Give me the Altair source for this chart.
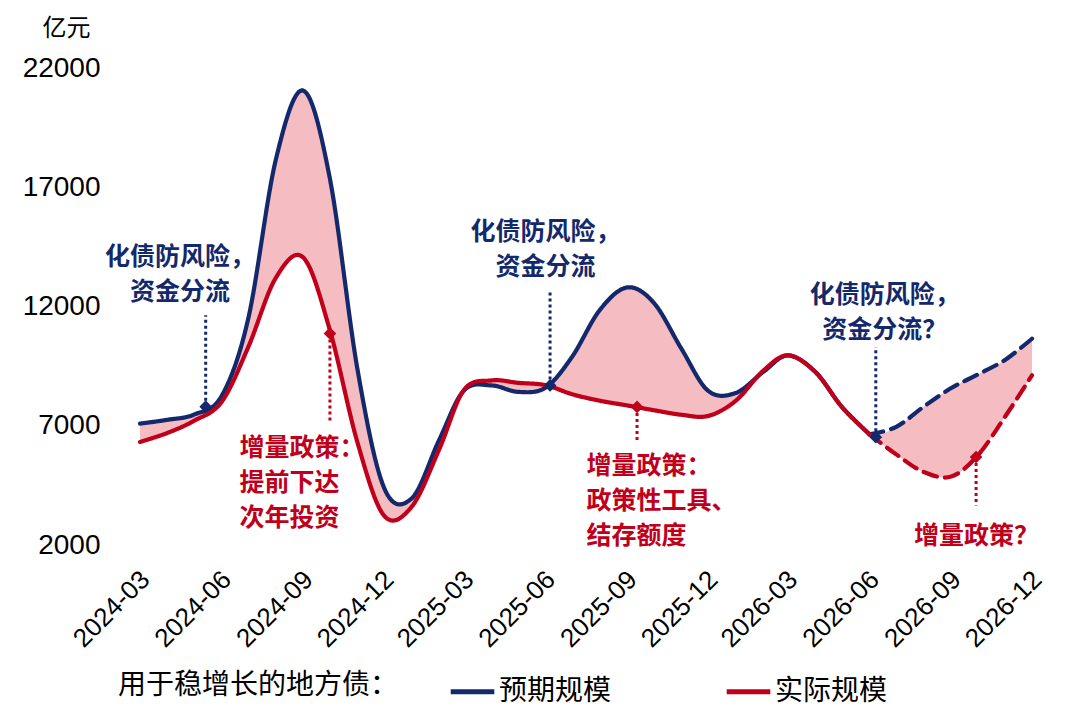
import altair as alt
import pandas as pd

# ---------------- data ----------------
months = [
    "2024-03-01", "2024-04-01", "2024-05-01", "2024-06-01", "2024-07-01", "2024-08-01",
    "2024-09-01", "2024-10-01", "2024-11-01", "2024-12-01", "2025-01-01", "2025-02-01",
    "2025-03-01", "2025-04-01", "2025-05-01", "2025-06-01", "2025-07-01", "2025-08-01",
    "2025-09-01", "2025-10-01", "2025-11-01", "2025-12-01", "2026-01-01", "2026-02-01",
    "2026-03-01", "2026-04-01", "2026-05-01", "2026-06-01", "2026-07-01", "2026-08-01",
    "2026-09-01", "2026-10-01", "2026-11-01", "2026-12-01",
]
expected = [7090, 7250, 7470, 8250, 11500, 18150, 21050, 17350, 9370, 4400, 3950, 6400,
            8480, 8690, 8420, 8600, 9900, 11850, 12800, 12150, 10230, 8470, 8370, 9250,
            9950, 9250, 7780, 6640, 6950, 7800, 8580, 9150, 9770, 10650]
actual = [6320, 6700, 7210, 8000, 10300, 13200, 14050, 11000, 6300, 3230, 3600, 6000,
          8500, 8900, 8800, 8700, 8320, 8050, 7850, 7650, 7460, 7410, 8040, 9300,
          9950, 9250, 7780, 6640, 5800, 5060, 4870, 5760, 7400, 9115]
dash_start = "2026-06-01"

series_names = ["预期规模", "实际规模"]
series_colors = ["#14296b", "#c0001b"]
fill_color = "#f5bcc2"

quarter_ticks = [(2024, 3), (2024, 6), (2024, 9), (2024, 12), (2025, 3), (2025, 6),
                 (2025, 9), (2025, 12), (2026, 3), (2026, 6), (2026, 9), (2026, 12)]
y_ticks = [2000, 7000, 12000, 17000, 22000]

# annotation pointers: date, value on line, other end of dotted line
marker_dates = ["2024-05-14", "2024-10-01", "2025-06-06", "2025-09-12", "2026-06-08", "2026-09-29"]
marker_values = [7800, 10870, 8690, 7790, 6520, 5690]
marker_ends = [11630, 7090, 12610, 6320, 10300, 3660]
marker_series = ["预期规模", "实际规模", "预期规模", "实际规模", "预期规模", "实际规模"]

# annotation texts: value = position of the first line
blue_texts = ["化债防风险，\n资金分流", "化债防风险，\n资金分流", "化债防风险，\n资金分流？"]
blue_text_dates = ["2024-04-15", "2025-06-01", "2026-06-18"]
blue_text_values = [14080, 15110, 12470]

red_texts = ["增量政策：\n提前下达\n次年投资", "增量政策：\n政策性工具、\n结存额度", "增量政策？"]
red_text_dates = ["2024-06-21", "2025-07-17", "2026-07-21"]
red_text_values = [6050, 5300, 2360]

# ---------------- tables ----------------
color_of = dict(zip(series_names, series_colors))
rows = []
for name, vals in zip(series_names, [expected, actual]):
    for m, v in zip(months, vals):
        if m <= dash_start:
            rows.append({"date": m, "value": v, "series": name, "phase": "solid"})
        if m >= dash_start:
            rows.append({"date": m, "value": v, "series": name, "phase": "dashed"})
lines_df = pd.DataFrame(rows)
wide_df = pd.DataFrame({"date": months, "expected": expected, "actual": actual})
marker_df = pd.DataFrame({"date": marker_dates, "value": marker_values, "end": marker_ends,
                          "col": [color_of[s] for s in marker_series]})
blue_df = pd.DataFrame({"date": blue_text_dates, "value": blue_text_values, "text": blue_texts})
red_df = pd.DataFrame({"date": red_text_dates, "value": red_text_values, "text": red_texts})

FONT = "Liberation Sans, Noto Sans CJK SC, sans-serif"
CJK = "Noto Sans CJK SC, sans-serif"

x_scale = alt.Scale(type="utc",
                    domain=[alt.DateTime(year=2024, month=3, date=1, utc=True),
                            alt.DateTime(year=2026, month=12, date=1, utc=True)])
y_scale = alt.Scale(domain=[2000, 22000], nice=False, zero=False)

x_axis = alt.Axis(values=[alt.DateTime(year=y, month=m, date=1, utc=True) for y, m in quarter_ticks],
                  format="%Y-%m", labelAngle=-45, labelAlign="right", labelBaseline="middle",
                  labelFontSize=26, labelFont=FONT, labelColor="black", labelPadding=30,
                  labelOffset=5,
                  labelOverlap=False, labelFlush=False, labelBound=False,
                  domain=False, ticks=False, tickSize=0, grid=False, title=None)
y_axis = alt.Axis(values=y_ticks, format="d", labelFontSize=28, labelFont=FONT, labelColor="black",
                  labelPadding=40, domain=False, ticks=False, tickSize=0, grid=False,
                  title="亿元", titleAngle=0, titleX=-74, titleY=-40, titleAlign="center",
                  titleBaseline="middle", titleFontSize=24, titleFontWeight="normal",
                  titleFont=CJK, titleColor="black")

X = alt.X("date:T", scale=x_scale, axis=x_axis)
Y = alt.Y("value:Q", scale=y_scale, axis=y_axis)

area = alt.Chart(wide_df).mark_area(interpolate="cardinal", color=fill_color).encode(
    x=alt.X("date:T", scale=x_scale, axis=x_axis),
    y=alt.Y("actual:Q", scale=y_scale, axis=y_axis),
    y2="expected:Q",
)

legend = alt.Legend(orient="none", legendX=-22, legendY=599, direction="horizontal",
                    title="用于稳增长的地方债：", titleOrient="left", titleFontSize=28,
                    titleFontWeight="normal", titleFont=CJK, titleColor="black", titleLimit=600,
                    titlePadding=49, labelFontSize=28, labelFont=CJK, labelColor="black",
                    labelLimit=300, labelOffset=2, symbolType="stroke", symbolStrokeWidth=5,
                    symbolSize=1900, columnPadding=104)
color = alt.Color("series:N", scale=alt.Scale(domain=series_names, range=series_colors),
                  legend=legend)
dash = alt.StrokeDash("phase:N", scale=alt.Scale(domain=["solid", "dashed"], range=[[1, 0], [14, 8]]),
                      legend=None)


def line_layer(name):
    return alt.Chart(lines_df).transform_filter(alt.datum.series == name).mark_line(
        interpolate="cardinal", strokeWidth=4.2, strokeCap="round"
    ).encode(x=X, y=Y, color=color, strokeDash=dash)


rules = alt.Chart(marker_df).mark_rule(strokeWidth=3, strokeDash=[3, 3]).encode(
    x=X, y=Y, y2="end:Q", color=alt.Color("col:N", scale=None))
points = alt.Chart(marker_df).mark_point(shape="diamond", filled=True, size=160, opacity=1).encode(
    x=X, y=Y, color=alt.Color("col:N", scale=None))

blue_text = alt.Chart(blue_df).mark_text(align="center", baseline="middle", lineBreak="\n",
                                         fontSize=25, fontWeight="bold", font=CJK, lineHeight=35,
                                         color=series_colors[0]).encode(x=X, y=Y, text="text:N")
red_text = alt.Chart(red_df).mark_text(align="left", baseline="middle", lineBreak="\n",
                                       fontSize=25, fontWeight="bold", font=CJK, lineHeight=35,
                                       color=series_colors[1]).encode(x=X, y=Y, text="text:N")

chart = alt.layer(area, line_layer("预期规模"), line_layer("实际规模"), rules, points,
                  blue_text, red_text).properties(
    width=892, height=477, autosize="none", background="white",
    padding={"left": 132, "top": 60, "right": 39, "bottom": 170},
).configure_view(stroke=None)

chart.save("out.html", embed_options={"renderer": "svg", "actions": False})
